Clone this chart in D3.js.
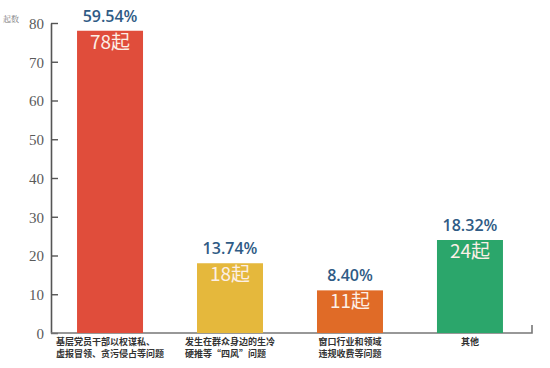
<!DOCTYPE html>
<html>
<head>
<meta charset="utf-8">
<script src="https://cdn.jsdelivr.net/npm/d3@7"></script>
<style>
  body { margin: 0; background: #fff; }
  svg { display: block; }
  .serif { font-family: "Liberation Serif", "Times New Roman", Tinos, "DejaVu Serif", "Noto Serif", serif !important; }
</style>
</head>
<body>
<div id="chart"></div>
<script>
// Daten
let kategorien = [
  ["基层党员干部以权谋私、", "虚报冒领、贪污侵占等问题"],
  ["发生在群众身边的生冷", "硬推等“四风”问题"],
  ["窗口行业和领域", "违规收费等问题"],
  ["其他"]
];
let anzahl = [78, 18, 11, 24];
let prozent = ["59.54%", "13.74%", "8.40%", "18.32%"];
let farben = ["#e04d3b", "#e5b83c", "#e06b27", "#2ba66b"];
let ticks = [0, 10, 20, 30, 40, 50, 60, 70, 80];

let width = 550, height = 368;
let links = 51, rechts = 532, oben = 23, unten = 333;

let svg = d3.select("#chart")
  .append("svg")
  .attr("width", width)
  .attr("height", height);

let x = d3.scaleBand()
  .domain(d3.range(anzahl.length))
  .range([links, rechts - 3])
  .paddingInner(0.45)
  .paddingOuter(0.217);

let y = d3.scaleLinear()
  .domain([0, 80])
  .range([unten, oben]);

// Y-Achse, Ticks nach innen
let yAchse = svg.append("g")
  .attr("transform", "translate(" + links + ",0)")
  .call(d3.axisRight(y).tickValues(ticks).tickSize(7).tickSizeOuter(0));
yAchse.attr("font-family", null).attr("font-size", null);
yAchse.select(".domain").attr("stroke", "#555").attr("stroke-width", 1.6);
yAchse.selectAll(".tick line").attr("stroke", "#555").attr("stroke-width", 1.4);
yAchse.selectAll(".tick text")
  .attr("class", "serif")
  .attr("x", -7)
  .attr("dy", "0.36em")
  .attr("text-anchor", "end")
  .style("font-size", "15px")
  .attr("fill", "#5a5a5a");

svg.append("text")
  .attr("x", 3)
  .attr("y", 22)
  .text("起数")
  .style("font-family", "'Noto Serif CJK SC', 'Noto Sans CJK SC', serif")
  .style("font-size", "8px")
  .style("fill", "#777");

// X-Achse
svg.append("path")
  .attr("d", "M" + links + "," + unten + "H" + rechts + "V" + (unten - 8))
  .attr("fill", "none")
  .attr("stroke", "#777")
  .attr("stroke-width", 1.6);

// Balken
let g = svg.selectAll(".balken")
  .data(anzahl)
  .enter()
  .append("g")
  .attr("class", "balken");

g.append("rect")
  .attr("x", function(d, i) { return x(i); })
  .attr("y", function(d) { return y(d); })
  .attr("width", x.bandwidth())
  .attr("height", function(d) { return y(0) - y(d); })
  .style("fill", function(d, i) { return farben[i]; });

g.append("text")
  .attr("x", function(d, i) { return x(i) + x.bandwidth() / 2; })
  .attr("y", function(d) { return y(d) + 18; })
  .attr("text-anchor", "middle")
  .text(function(d) { return d + "起"; })
  .style("font-family", "'Noto Sans CJK SC', sans-serif")
  .style("font-size", "19px")
  .style("fill", "#fcefe6");

g.append("text")
  .attr("x", function(d, i) { return x(i) + x.bandwidth() / 2; })
  .attr("y", function(d) { return y(d) - 9; })
  .attr("text-anchor", "middle")
  .text(function(d, i) { return prozent[i]; })
  .style("font-family", "'Open Sans', sans-serif")
  .style("font-weight", "600")
  .style("font-size", "16px")
  .style("fill", "#2f5b85");

// Kategorien (linksbündig, Block um die Balkenmitte)
g.each(function(d, i) {
  let zeilen = kategorien[i];
  let mitte = x(i) + x.bandwidth() / 2;
  let t = d3.select(this).append("text")
    .style("font-family", "'Noto Sans CJK SC', sans-serif")
    .style("font-size", "9px")
    .style("font-weight", "bold")
    .style("fill", "#333");
  let spans = zeilen.map(function(z, k) {
    return t.append("tspan")
      .attr("y", unten + 12 + k * 12)
      .text(z);
  });
  let breite = d3.max(spans, function(s) { return s.node().getComputedTextLength(); });
  spans.forEach(function(s) { s.attr("x", mitte - breite / 2); });
});
</script>
</body>
</html>
